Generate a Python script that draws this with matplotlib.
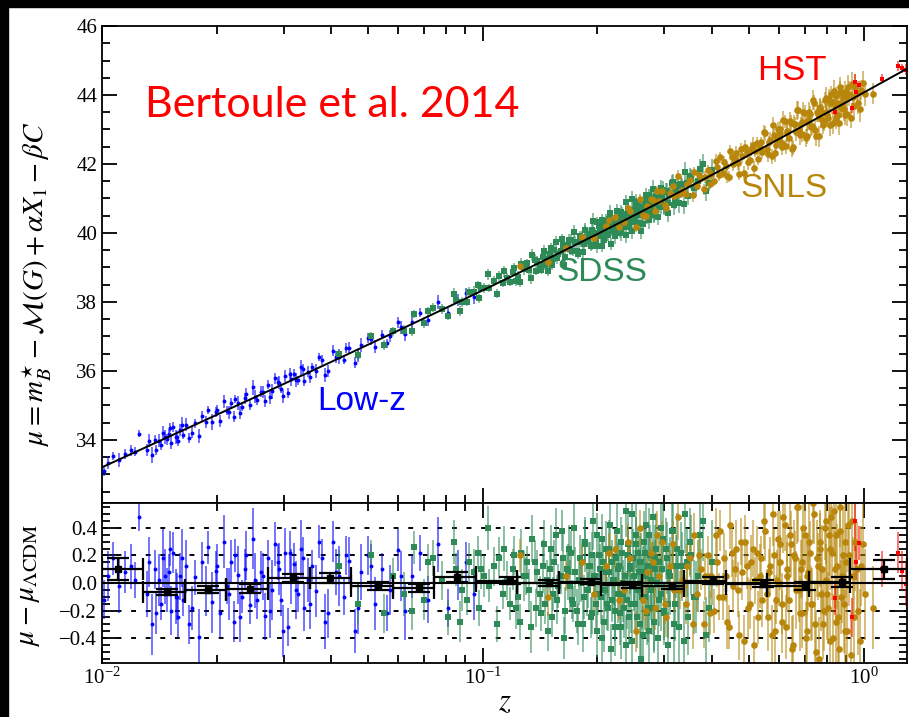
import numpy as np
import matplotlib
matplotlib.use("Agg")
import matplotlib.pyplot as plt
from matplotlib.patches import Rectangle
from matplotlib.ticker import MultipleLocator, LogLocator, NullFormatter

plt.rcParams['font.family'] = 'serif'
plt.rcParams['font.serif'] = ['Liberation Serif', 'DejaVu Serif']
plt.rcParams['mathtext.fontset'] = 'stix'

# Hubble residuals per sample: redshift, mu - mu_LCDM, error
lowz_z = [0.0101, 0.0104, 0.0107, 0.0111, 0.0115, 0.0119, 0.0122, 0.0125,
          0.0131, 0.0135, 0.0138, 0.0141, 0.0143, 0.0145, 0.0148, 0.0150, 0.0152, 0.0154, 0.0156, 0.0158, 0.0160, 0.0163, 0.0166,
          0.0172, 0.0176, 0.0180, 0.0183, 0.0187, 0.0190, 0.0194, 0.0199, 0.0204, 0.0209, 0.0213, 0.0218, 0.0222, 0.0228, 0.0233, 0.0239, 0.0245, 0.0252,
          0.0262, 0.0268, 0.0273, 0.0279, 0.0285, 0.0291, 0.0296, 0.0302, 0.0308, 0.0314, 0.0320, 0.0327, 0.0333, 0.0340, 0.0348, 0.0356, 0.0365, 0.0378,
          0.0392, 0.0405, 0.0418, 0.0431, 0.0446, 0.0462, 0.0480, 0.0498, 0.0520, 0.0545, 0.0570, 0.0598, 0.0625, 0.0652, 0.0685,
          0.0720, 0.0765, 0.0810, 0.0860, 0.0905, 0.0950,
          0.0133, 0.0139, 0.0146, 0.0151, 0.0157, 0.0162, 0.0169, 0.0201, 0.0215, 0.0224, 0.0231, 0.0237, 0.0249, 0.0256, 0.0265,
          0.0276, 0.0289, 0.0299, 0.0311, 0.0324, 0.0337, 0.0352, 0.0371, 0.0384, 0.0412, 0.0438, 0.0470, 0.0510, 0.0560, 0.0610]
lowz_res = [-0.12, 0.05, 0.18, -0.02, 0.08, 0.12, 0.02, 0.48,
            -0.08, -0.30, 0.10, 0.02, -0.15, 0.18, -0.05, 0.08, -0.20, 0.22, -0.10, -0.25, 0.05, -0.12, 0.12,
            -0.18, 0.04, -0.39, 0.15, -0.06, 0.26, -0.14, 0.09, -0.22, 0.30, -0.02, 0.15, -0.28, 0.06, -0.10, 0.20, -0.16, 0.02,
            0.08, -0.24, 0.18, -0.05, 0.28, 0.10, -0.12, 0.22, -0.32, 0.05, 0.14, -0.08, 0.25, -0.18, 0.02, 0.12, -0.06, 0.18,
            -0.22, 0.30, 0.05, -0.10, 0.16, -0.35, 0.08, 0.20, -0.15, 0.10, -0.05, 0.24, -0.20, 0.05, 0.22,
            -0.12, 0.28, -0.18, 0.06, 0.15, -0.08,
            0.15, -0.22, 0.05, 0.25, -0.10, 0.18, -0.30, 0.12, -0.08, 0.20, -0.25, 0.10, 0.32, -0.12, 0.05,
            -0.20, 0.15, -0.35, 0.22, -0.05, 0.18, -0.15, 0.30, -0.28, 0.08, 0.20, -0.18, 0.12, -0.22, 0.05]
lowz_err = [0.14, 0.18, 0.12, 0.20, 0.15, 0.16, 0.13, 0.10,
            0.17, 0.22, 0.14, 0.19, 0.12, 0.21, 0.16, 0.13, 0.18, 0.15, 0.20, 0.14, 0.17, 0.12, 0.19,
            0.16, 0.13, 0.20, 0.15, 0.18, 0.12, 0.22, 0.14, 0.17, 0.19, 0.13, 0.16, 0.15, 0.21, 0.12, 0.18, 0.14, 0.20,
            0.15, 0.17, 0.13, 0.22, 0.16, 0.19, 0.12, 0.18, 0.14, 0.20, 0.15, 0.13, 0.21, 0.17, 0.16, 0.12, 0.19, 0.14,
            0.18, 0.15, 0.22, 0.13, 0.17, 0.16, 0.20, 0.14, 0.19, 0.12, 0.18, 0.15, 0.21, 0.16, 0.13,
            0.17, 0.20, 0.14, 0.18, 0.15, 0.19,
            0.18, 0.15, 0.20, 0.13, 0.17, 0.21, 0.14, 0.16, 0.19, 0.12, 0.18, 0.15, 0.22, 0.14, 0.17,
            0.20, 0.13, 0.19, 0.16, 0.21, 0.15, 0.18, 0.12, 0.20, 0.17, 0.14, 0.19, 0.16, 0.13, 0.18]

sdss_z = [0.042, 0.047, 0.051, 0.055, 0.058, 0.062, 0.066, 0.070, 0.074, 0.078,
          0.081, 0.084, 0.085, 0.088, 0.091, 0.092, 0.095, 0.097, 0.098, 0.101, 0.103, 0.104, 0.107, 0.109, 0.110, 0.113, 0.114, 0.116, 0.118, 0.120,
          0.121, 0.124, 0.125, 0.128, 0.131, 0.132, 0.135, 0.138, 0.139, 0.142, 0.144, 0.147, 0.148, 0.151, 0.153, 0.154, 0.157, 0.160, 0.161, 0.164,
          0.166, 0.169, 0.170, 0.173, 0.175, 0.178, 0.180, 0.181, 0.184, 0.186, 0.189, 0.190, 0.192, 0.194, 0.196, 0.198, 0.199, 0.201, 0.203, 0.205,
          0.207, 0.209, 0.211, 0.213, 0.214, 0.216, 0.219, 0.221, 0.222, 0.224, 0.227, 0.229, 0.231, 0.233, 0.236, 0.238, 0.240, 0.243, 0.245, 0.247,
          0.249, 0.252, 0.254, 0.257, 0.259, 0.262, 0.264, 0.266, 0.269, 0.271, 0.274, 0.276, 0.279, 0.281, 0.284, 0.287, 0.290, 0.293, 0.296, 0.299,
          0.302, 0.306, 0.309, 0.313, 0.317, 0.322, 0.326, 0.331, 0.337, 0.343, 0.350, 0.358, 0.367, 0.378, 0.392,
          0.122, 0.126, 0.130, 0.134, 0.137, 0.141, 0.145, 0.146, 0.150, 0.152,
          0.156, 0.158, 0.162, 0.163, 0.167, 0.168, 0.172, 0.174, 0.177, 0.179,
          0.182, 0.183, 0.185, 0.188, 0.191, 0.193, 0.195, 0.197, 0.200, 0.202,
          0.204, 0.206, 0.208, 0.210, 0.212, 0.215, 0.217, 0.218, 0.220, 0.223,
          0.225, 0.226, 0.228, 0.230, 0.232, 0.234, 0.235, 0.237, 0.239, 0.241,
          0.242, 0.244, 0.246, 0.248, 0.250, 0.251, 0.253, 0.255, 0.256, 0.258,
          0.260, 0.261, 0.263, 0.265, 0.267, 0.268, 0.270, 0.272, 0.273, 0.275,
          0.277, 0.278, 0.280, 0.282, 0.283, 0.285, 0.288, 0.291, 0.294, 0.297,
          0.300, 0.304, 0.307, 0.311, 0.315, 0.319, 0.324, 0.328, 0.334, 0.340,
          0.346, 0.353, 0.362, 0.372, 0.385, 0.400, 0.065, 0.072, 0.087, 0.099]
sdss_res = [0.12, -0.15, 0.20, -0.22, 0.05, -0.08, 0.26, -0.12, 0.18, 0.02,
            -0.25, 0.30, 0.10, -0.05, -0.12, 0.15, 0.08, 0.22, -0.18, 0.05, 0.40, -0.02, 0.12, -0.30, 0.18, -0.08, 0.25, 0.02, -0.15, 0.10,
            0.20, -0.10, -0.28, 0.05, 0.15, -0.05, 0.32, -0.18, 0.08, -0.22, 0.12, 0.02, -0.35, 0.25, -0.08, 0.15, -0.12, 0.05, 0.38, -0.20,
            0.10, -0.02, 0.22, -0.15, 0.08, -0.30, 0.18, 0.00, -0.10, 0.28, -0.05, 0.12, -0.25, 0.20, 0.05, -0.15, 0.35, -0.08, 0.10, -0.40,
            0.15, -0.05, 0.25, -0.18, 0.08, 0.42, -0.12, 0.02, -0.32, 0.18, 0.10, -0.22, 0.30, -0.08, 0.05, -0.45, 0.20, 0.12, -0.15, 0.50,
            -0.02, 0.28, -0.25, 0.08, 0.15, -0.10, -0.38, 0.22, 0.05, -0.18, 0.35, -0.05, 0.12, -0.28, 0.18, 0.00, -0.12, 0.40, 0.10, -0.20,
            0.25, -0.15, 0.08, 0.38, -0.30, 0.12, -0.05, 0.22, -0.42, 0.15, 0.30, -0.10, 0.05, 0.45, -0.18,
            -0.18, 0.22, 0.05, -0.32, 0.15, -0.08, 0.28, -0.15, 0.10, -0.25,
            0.35, -0.02, 0.18, -0.40, 0.08, 0.25, -0.12, 0.40, -0.20, 0.02,
            0.15, -0.30, 0.30, -0.05, 0.12, -0.22, 0.45, 0.05, -0.35, 0.20,
            -0.10, 0.32, -0.28, 0.08, -0.15, 0.25, -0.48, 0.15, 0.02, -0.20,
            0.38, -0.08, 0.12, -0.32, 0.22, 0.00, -0.18, 0.52, -0.12, 0.28,
            -0.25, 0.10, -0.42, 0.18, 0.05, -0.15, 0.35, -0.05, 0.22, -0.30,
            0.15, -0.55, 0.08, 0.30, -0.10, 0.42, -0.22, 0.12, -0.35, 0.20,
            0.02, -0.18, 0.48, -0.28, 0.10, 0.25, -0.40, 0.15, -0.08, 0.32,
            -0.22, 0.18, -0.45, 0.05, 0.38, -0.15, 0.25, -0.32, 0.12, 0.50,
            -0.25, 0.20, -0.10, 0.35, -0.38, 0.15, -0.20, 0.15, -0.28, 0.10]
sdss_err = [0.12, 0.15, 0.11, 0.14, 0.13, 0.16, 0.12, 0.15, 0.13, 0.14,
            0.13, 0.16, 0.12, 0.15, 0.11, 0.14, 0.17, 0.12, 0.13, 0.15, 0.16, 0.12, 0.14, 0.13, 0.15, 0.11, 0.16, 0.14, 0.12, 0.15,
            0.14, 0.16, 0.13, 0.18, 0.12, 0.15, 0.17, 0.14, 0.16, 0.13, 0.19, 0.15, 0.14, 0.17, 0.12, 0.16, 0.18, 0.13, 0.15, 0.17,
            0.14, 0.19, 0.16, 0.13, 0.18, 0.15, 0.17, 0.14, 0.16, 0.20, 0.13, 0.18, 0.15, 0.17, 0.14, 0.19, 0.16, 0.15, 0.18, 0.17,
            0.18, 0.16, 0.20, 0.17, 0.19, 0.22, 0.16, 0.18, 0.21, 0.17, 0.19, 0.23, 0.18, 0.20, 0.16, 0.22, 0.19, 0.17, 0.21, 0.24,
            0.18, 0.20, 0.22, 0.17, 0.19, 0.23, 0.21, 0.18, 0.20, 0.25, 0.19, 0.22, 0.18, 0.21, 0.24, 0.20, 0.19, 0.23, 0.22, 0.21,
            0.22, 0.25, 0.21, 0.24, 0.27, 0.23, 0.26, 0.22, 0.28, 0.25, 0.24, 0.27, 0.26, 0.29, 0.25,
            0.15, 0.17, 0.14, 0.19, 0.16, 0.13, 0.18, 0.15, 0.17, 0.14,
            0.19, 0.16, 0.18, 0.15, 0.20, 0.17, 0.14, 0.19, 0.16, 0.18,
            0.17, 0.20, 0.16, 0.19, 0.18, 0.15, 0.21, 0.17, 0.19, 0.16,
            0.20, 0.18, 0.22, 0.17, 0.19, 0.21, 0.18, 0.16, 0.20, 0.22,
            0.19, 0.21, 0.18, 0.23, 0.20, 0.17, 0.22, 0.19, 0.21, 0.24,
            0.20, 0.18, 0.23, 0.21, 0.19, 0.22, 0.24, 0.20, 0.18, 0.23,
            0.21, 0.25, 0.19, 0.22, 0.24, 0.20, 0.23, 0.21, 0.26, 0.22,
            0.24, 0.20, 0.25, 0.23, 0.21, 0.26, 0.24, 0.22, 0.27, 0.25,
            0.23, 0.26, 0.24, 0.28, 0.25, 0.27, 0.26, 0.29, 0.25, 0.28,
            0.27, 0.29, 0.26, 0.30, 0.28, 0.31, 0.14, 0.13, 0.15, 0.14]

snls_z = [0.125, 0.148, 0.165, 0.182, 0.196, 0.210, 0.222, 0.235, 0.244, 0.252,
          0.258, 0.264, 0.270, 0.276, 0.283, 0.290, 0.296, 0.303, 0.311, 0.318, 0.326, 0.333, 0.341, 0.350, 0.358, 0.365, 0.373, 0.381, 0.390, 0.398,
          0.405, 0.412, 0.420, 0.427, 0.435, 0.443, 0.450, 0.459, 0.467, 0.476, 0.484, 0.493, 0.502, 0.511, 0.520, 0.529, 0.538, 0.547, 0.556, 0.565,
          0.573, 0.581, 0.589, 0.595, 0.599,
          0.605, 0.612, 0.620, 0.628, 0.635, 0.643, 0.651, 0.659, 0.667, 0.675, 0.683, 0.691, 0.700, 0.708, 0.716, 0.724, 0.733, 0.741, 0.750, 0.758,
          0.766, 0.775, 0.783, 0.791, 0.798,
          0.806, 0.814, 0.822, 0.831, 0.840, 0.848, 0.857, 0.865, 0.874, 0.883, 0.892, 0.901, 0.912, 0.925, 0.938, 0.952, 0.968, 0.985, 1.010, 1.060,
          0.301, 0.315, 0.329, 0.344, 0.356, 0.369, 0.384, 0.395, 0.409, 0.417,
          0.431, 0.439, 0.447, 0.455, 0.463, 0.471, 0.480, 0.489, 0.497, 0.506,
          0.515, 0.524, 0.533, 0.542, 0.551, 0.560, 0.569, 0.577, 0.585, 0.592,
          0.602, 0.609, 0.616, 0.624, 0.631, 0.639, 0.647, 0.655, 0.663, 0.671,
          0.679, 0.687, 0.695, 0.704, 0.712, 0.720, 0.728, 0.737, 0.745, 0.754,
          0.762, 0.770, 0.779, 0.787, 0.795, 0.802, 0.810, 0.818, 0.826, 0.835,
          0.844, 0.852, 0.861, 0.869, 0.878, 0.887, 0.896, 0.906, 0.918, 0.931,
          0.945, 0.960, 0.976, 0.995, 0.215, 0.228, 0.240, 0.268, 0.280, 0.287]
snls_res = [0.20, -0.10, 0.05, 0.15, -0.08, 0.12, 0.25, -0.05, 0.18, -0.35,
            0.40, -0.12, 0.08, 0.22, -0.18, 0.05, 0.30, -0.25, 0.12, -0.05, 0.48, 0.02, -0.15, 0.18, 0.35, -0.08, 0.10, -0.30, 0.20, 0.05,
            -0.20, 0.15, 0.38, -0.10, 0.05, -0.32, 0.22, 0.10, -0.05, 0.30, -0.42, 0.12, -0.15, 0.25, 0.02, -0.25, 0.18, 0.45, -0.08, 0.08,
            -0.38, 0.20, -0.12, 0.32, 0.00,
            0.15, -0.28, 0.42, 0.05, -0.12, 0.28, -0.45, 0.18, 0.55, -0.05, 0.10, -0.22, 0.35, -0.35, 0.08, 0.22, -0.15, 0.50, -0.50, 0.12,
            0.30, -0.08, -0.30, 0.40, 0.02,
            -0.18, 0.25, 0.48, -0.40, 0.10, 0.35, -0.25, 0.55, -0.10, 0.20, -0.35, 0.15, 0.42, -0.52, 0.05, 0.30, -0.20, 0.12, -0.08, -0.18,
            -0.15, 0.28, -0.05, 0.12, -0.30, 0.20, 0.05, -0.22, 0.35, -0.10,
            0.18, -0.28, 0.42, -0.02, 0.25, -0.38, 0.08, 0.30, -0.18, 0.15,
            -0.45, 0.22, 0.05, -0.12, 0.38, -0.25, 0.12, 0.50, -0.35, 0.02,
            0.28, -0.15, 0.48, -0.32, 0.10, 0.35, -0.48, 0.20, -0.05, 0.55,
            -0.22, 0.15, 0.40, -0.40, 0.05, 0.30, -0.15, 0.58, -0.30, 0.18,
            -0.55, 0.25, 0.10, -0.20, 0.45, -0.08, 0.35, -0.42, 0.22, 0.52,
            -0.28, 0.12, -0.48, 0.38, 0.05, -0.15, 0.30, -0.35, 0.20, 0.45,
            -0.25, 0.10, -0.42, 0.28, 0.22, -0.12, 0.30, -0.20, 0.15, 0.35]
snls_err = [0.12, 0.14, 0.11, 0.13, 0.15, 0.12, 0.14, 0.13, 0.12, 0.15,
            0.13, 0.15, 0.12, 0.14, 0.16, 0.13, 0.15, 0.14, 0.12, 0.16, 0.17, 0.13, 0.15, 0.14, 0.16, 0.13, 0.15, 0.17, 0.14, 0.16,
            0.16, 0.18, 0.15, 0.17, 0.19, 0.16, 0.18, 0.15, 0.20, 0.17, 0.19, 0.16, 0.18, 0.21, 0.17, 0.19, 0.16, 0.20, 0.18, 0.17,
            0.22, 0.19, 0.18, 0.20, 0.17,
            0.20, 0.23, 0.19, 0.25, 0.21, 0.24, 0.22, 0.20, 0.27, 0.23, 0.21, 0.25, 0.24, 0.22, 0.28, 0.23, 0.26, 0.22, 0.29, 0.24,
            0.21, 0.27, 0.25, 0.23, 0.26,
            0.26, 0.30, 0.24, 0.32, 0.28, 0.25, 0.33, 0.29, 0.27, 0.35, 0.30, 0.26, 0.34, 0.31, 0.28, 0.36, 0.32, 0.29, 0.33, 0.30,
            0.15, 0.17, 0.14, 0.16, 0.18, 0.15, 0.17, 0.16, 0.19, 0.17,
            0.18, 0.20, 0.17, 0.19, 0.21, 0.18, 0.20, 0.19, 0.22, 0.20,
            0.21, 0.19, 0.23, 0.20, 0.22, 0.24, 0.21, 0.23, 0.25, 0.22,
            0.24, 0.22, 0.26, 0.23, 0.25, 0.27, 0.24, 0.26, 0.28, 0.25,
            0.27, 0.25, 0.29, 0.26, 0.28, 0.30, 0.27, 0.29, 0.31, 0.28,
            0.30, 0.28, 0.32, 0.29, 0.31, 0.33, 0.30, 0.32, 0.34, 0.31,
            0.33, 0.31, 0.35, 0.32, 0.34, 0.36, 0.33, 0.35, 0.37, 0.34,
            0.36, 0.34, 0.38, 0.35, 0.14, 0.15, 0.13, 0.16, 0.15, 0.17]

hst_z = [0.84, 0.93, 0.95, 0.955, 0.975, 1.12, 1.23, 1.26, 1.29]
hst_res = [-0.11, -0.25, 0.45, 0.15, 0.29, 0.10, 0.22, 0.09, -0.01]
hst_err = [0.12, 0.14, 0.22, 0.13, 0.12, 0.13, 0.15, 0.14, 0.16]

# Binned residuals
bin_z = [0.0110, 0.0148, 0.0190, 0.0245, 0.0318, 0.0397, 0.0530, 0.0680, 0.0857, 0.118,
         0.149, 0.192, 0.247, 0.313, 0.403, 0.545, 0.700, 0.880, 1.13]
bin_res = [0.10, -0.065, -0.05, -0.04, 0.035, 0.035, -0.02, -0.035, 0.045, 0.015,
           0.0, 0.01, -0.015, -0.02, 0.015, -0.005, -0.02, 0.005, 0.10]
bin_err = [0.08, 0.025, 0.025, 0.03, 0.03, 0.035, 0.03, 0.03, 0.035, 0.025,
           0.02, 0.02, 0.02, 0.02, 0.025, 0.025, 0.03, 0.035, 0.07]
bin_edges = [0.0100, 0.0128, 0.0165, 0.0212, 0.0273, 0.0351, 0.0451, 0.0580, 0.0746, 0.0959,
             0.123, 0.159, 0.204, 0.262, 0.337, 0.434, 0.558, 0.717, 0.922, 1.30]

H0 = 70.0
OMEGA_M = 0.35
MU_OFFSET = 0.03


def distance_modulus(z):
    """Flat LCDM distance modulus."""
    z = np.asarray(z, dtype=float)
    grid = np.linspace(0.0, 1.4, 5000)
    inv_e = 1.0 / np.sqrt(OMEGA_M * (1 + grid) ** 3 + 1 - OMEGA_M)
    chi = np.concatenate([[0.0], np.cumsum(0.5 * (inv_e[1:] + inv_e[:-1]) * np.diff(grid))])
    dc = np.interp(z, grid, chi) * 299792.458 / H0
    return 5 * np.log10((1 + z) * dc) + 25 + MU_OFFSET


samples = [
    (lowz_z, lowz_res, lowz_err, '#0000ff', 'o', 2.8),
    (sdss_z, sdss_res, sdss_err, '#2e8b57', 's', 4.2),
    (snls_z, snls_res, snls_err, '#b8860b', 'o', 4.8),
    (hst_z, hst_res, hst_err, '#ff0000', 's', 3.2),
]

fig = plt.figure(figsize=(9.09, 7.17), dpi=100)
fig.patch.set_facecolor('white')
ax1 = fig.add_axes([0.1122, 0.2985, 0.8856, 0.6652])
ax2 = fig.add_axes([0.1122, 0.0753, 0.8856, 0.2232], sharex=ax1)

for z, res, err, col, mk, ms in samples:
    z = np.array(z)
    res = np.array(res)
    ecol = matplotlib.colors.to_rgba(col, 0.55)
    ax1.errorbar(z, distance_modulus(z) + res, yerr=err, fmt=mk, color=col, ms=ms,
                 ecolor=ecol, elinewidth=1.4, capsize=0, mew=0)
    ax2.errorbar(z, res, yerr=err, fmt=mk, color=col, ms=ms,
                 ecolor=ecol, elinewidth=1.4, capsize=0, mew=0)

zline = np.logspace(-2, np.log10(1.3), 400)
ax1.plot(zline, distance_modulus(zline), color='black', lw=1.4, zorder=5)

# lower panel: reference lines and binned points
ax2.axhline(0.0, color='black', lw=1.5, zorder=4)
for yv in (-0.4, -0.2, 0.2, 0.4):
    ax2.axhline(yv, color='black', lw=1.4, ls=(0, (2.5, 5)), zorder=1)

bz = np.array(bin_z)
edges = np.array(bin_edges)
xerr = np.vstack([bz - edges[:-1], edges[1:] - bz])
ax2.errorbar(bz, bin_res, xerr=xerr, yerr=bin_err, fmt='s', color='black', ms=5,
             elinewidth=1.6, capsize=8, capthick=1.6, zorder=6)

ax1.set_xscale('log')
ax1.set_xlim(0.01, 1.3)
ax1.set_ylim(32.17, 46)
ax1.yaxis.set_major_locator(MultipleLocator(2))
ax1.yaxis.set_minor_locator(MultipleLocator(0.5))
ax2.set_ylim(-0.58, 0.58)
ax2.yaxis.set_major_locator(MultipleLocator(0.2))
ax2.yaxis.set_minor_locator(MultipleLocator(0.05))
ax2.xaxis.set_major_locator(LogLocator(base=10))
ax2.xaxis.set_minor_locator(LogLocator(base=10, subs=np.arange(2, 10)))
ax2.xaxis.set_minor_formatter(NullFormatter())
plt.setp(ax1.get_xticklabels(), visible=False)

for ax in (ax1, ax2):
    ax.tick_params(which='both', direction='in', top=True, right=True, width=1.3, labelsize=15)
    ax.tick_params(which='major', length=11)
    ax.tick_params(which='minor', length=6)
    for sp in ax.spines.values():
        sp.set_linewidth(1.3)

ax1.set_ylabel(r'$\mu = m_B^{\star} - \mathcal{M}(G) + \alpha X_1 - \beta C$', fontsize=21)
ax1.yaxis.set_label_coords(-0.06, 0.46)
ax2.set_ylabel(r'$\mu - \mu_{\Lambda\mathrm{CDM}}$', fontsize=21)
ax2.yaxis.set_label_coords(-0.075, 0.49)
ax2.set_xlabel(r'$z$', fontsize=22)
ax2.xaxis.set_label_coords(0.5, -0.16)

ax1.text(0.053, 0.834, 'Bertoule et al. 2014', transform=ax1.transAxes, color='#ff0000',
         fontsize=31, family='Lato', ha='left', va='center')
ax1.text(0.814, 0.906, 'HST', transform=ax1.transAxes, color='#ff0000',
         fontsize=25, family='Liberation Sans', ha='left', va='center')
ax1.text(0.793, 0.660, 'SNLS', transform=ax1.transAxes, color='#b8860b',
         fontsize=24, family='Liberation Sans', ha='left', va='center')
ax1.text(0.565, 0.484, 'SDSS', transform=ax1.transAxes, color='#2e8b57',
         fontsize=24, family='Liberation Sans', ha='left', va='center')
ax1.text(0.268, 0.212, 'Low-z', transform=ax1.transAxes, color='#0000ff',
         fontsize=24, family='Liberation Sans', ha='left', va='center')

# dark frame along the top and left edges
fig.patches.append(Rectangle((0, 1 - 7 / 717), 1, 7 / 717, transform=fig.transFigure,
                             color='black', zorder=-1))
fig.patches.append(Rectangle((0, 0), 8 / 909, 1, transform=fig.transFigure,
                             color='black', zorder=-1))

fig.savefig('out.png', dpi=100, facecolor='white')
